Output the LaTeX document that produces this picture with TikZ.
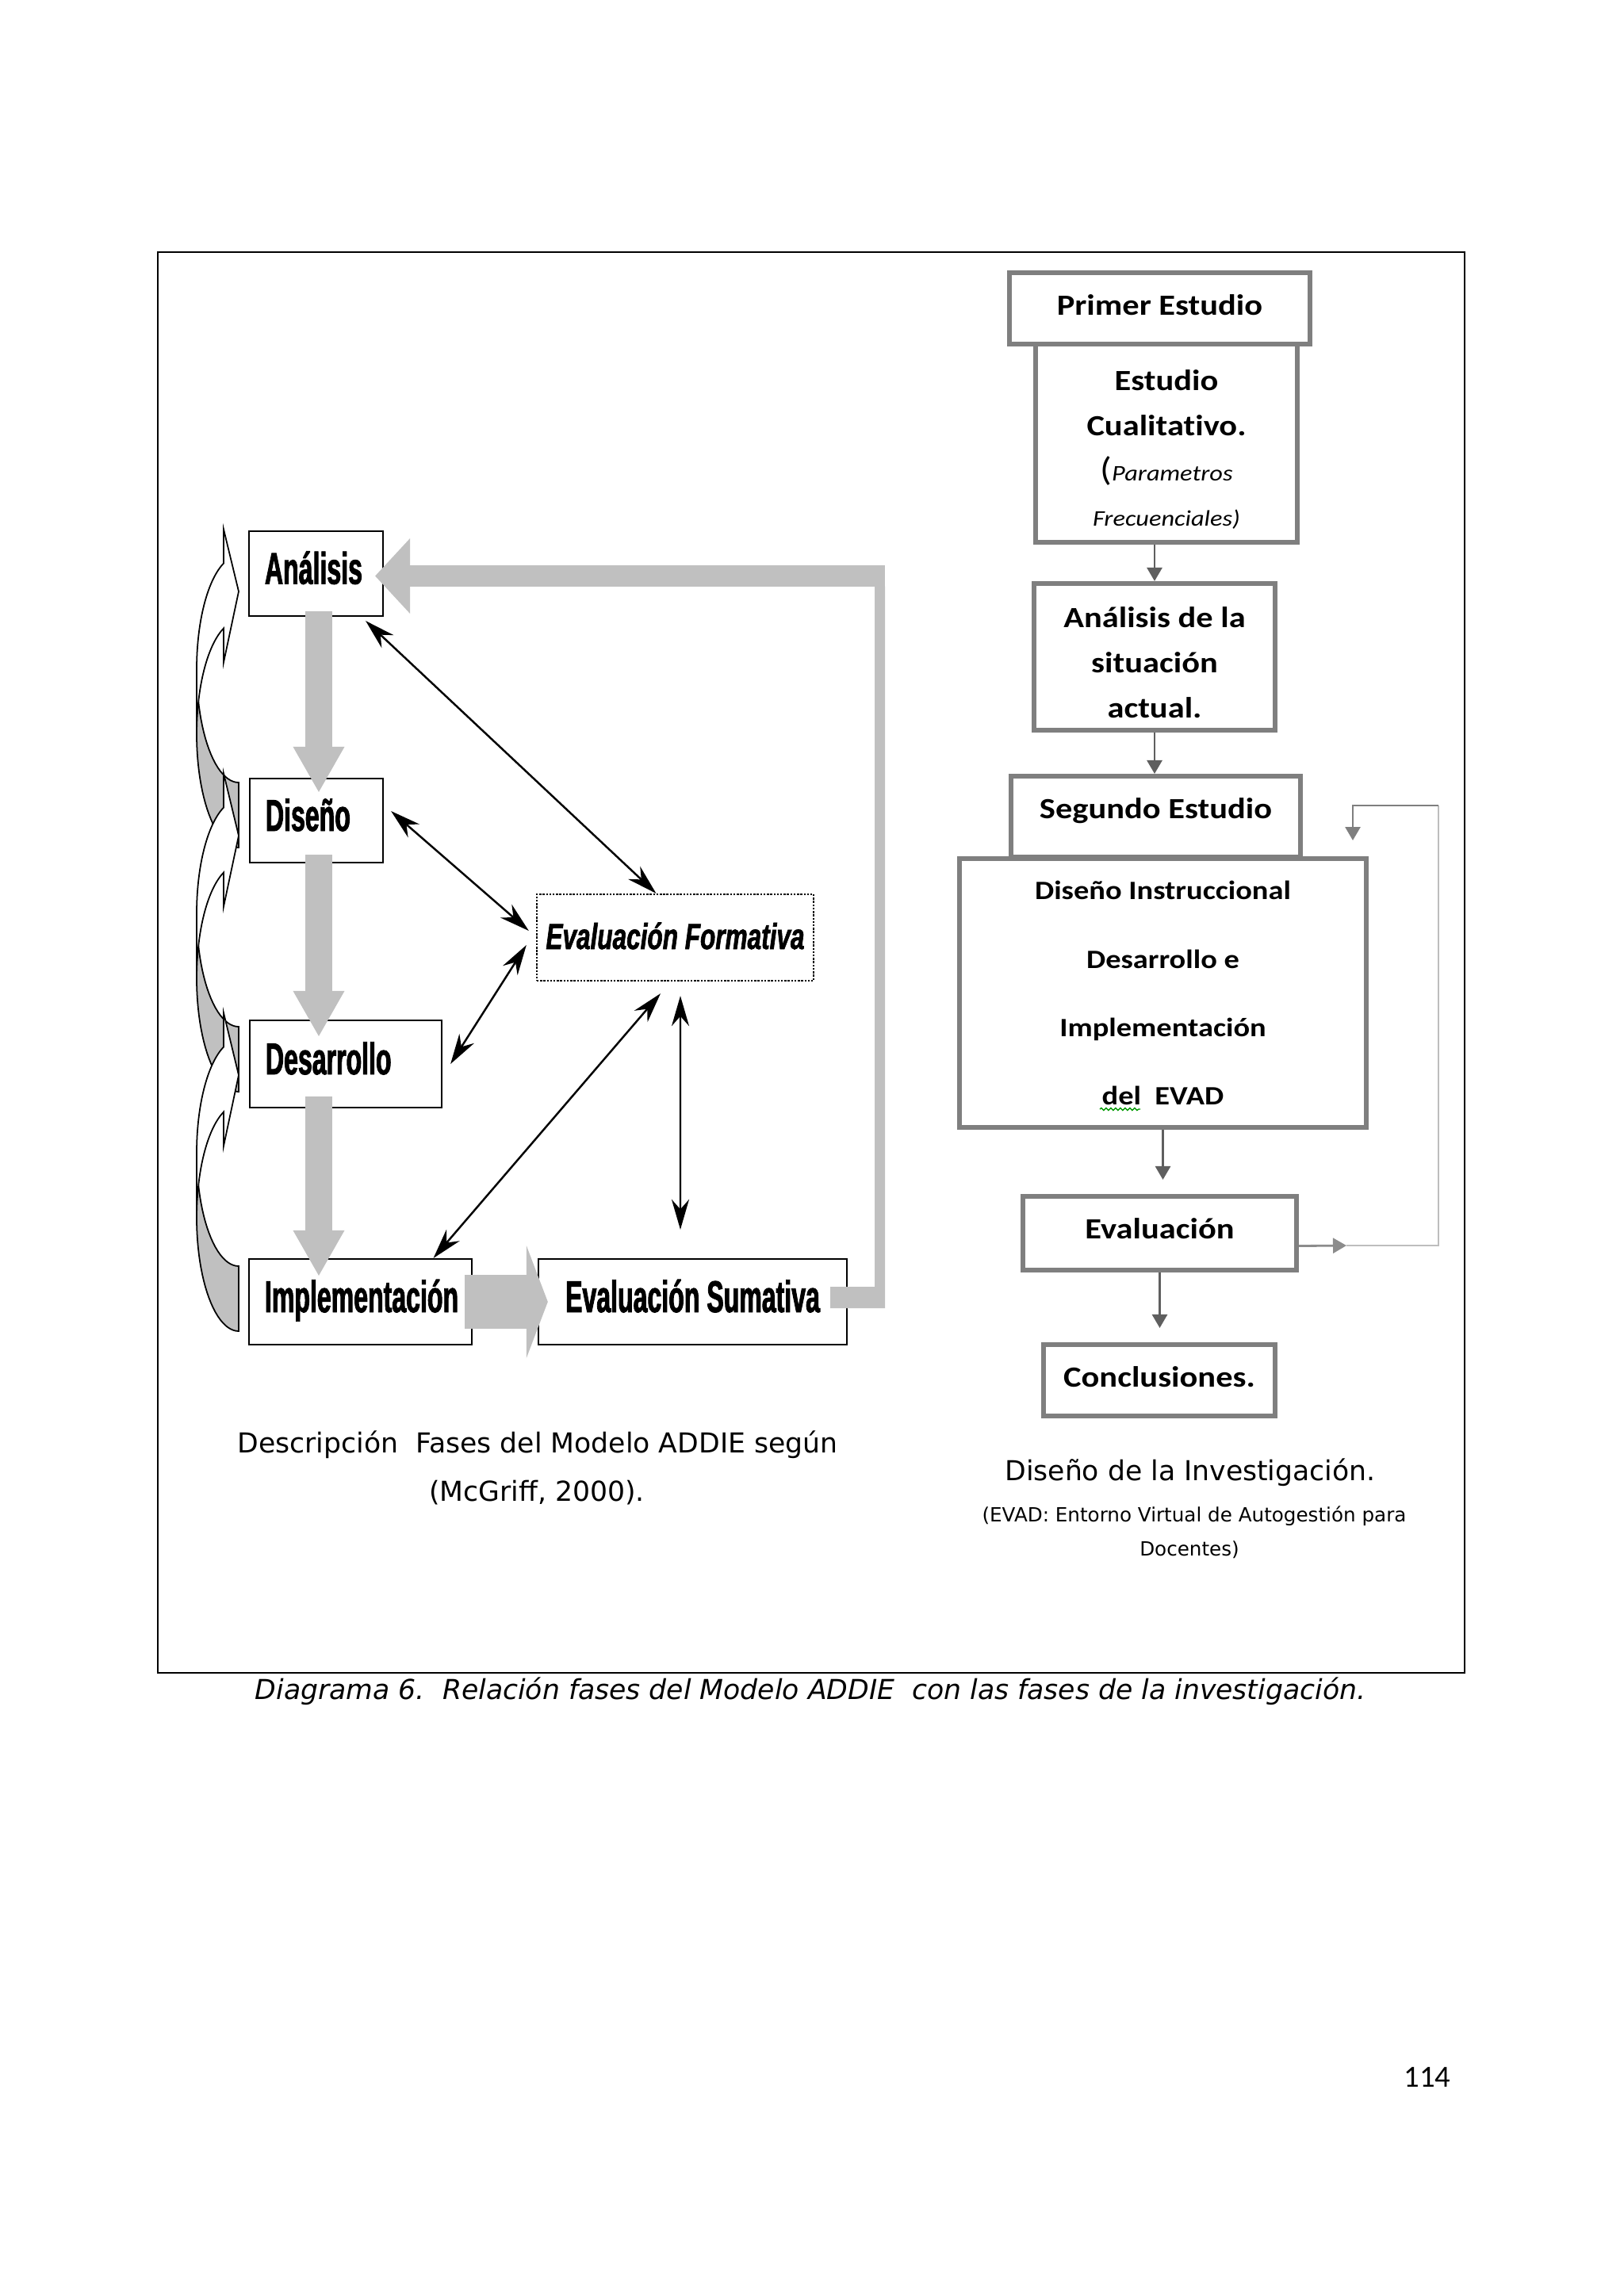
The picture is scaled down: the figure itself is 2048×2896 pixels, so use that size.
\documentclass[tikz,border=0pt]{standalone}
\usepackage{fontspec}
\setmainfont{DejaVu Sans}
\newfontfamily\addiefont[FakeStretch=0.57,FakeBold=1.6]{Liberation Sans}
\newfontfamily\formfont[FakeStretch=0.69,FakeBold=1.4]{Liberation Sans}
\newfontfamily\calfont[FakeStretch=1.15,Ligatures=NoCommon]{Carlito}
\newfontfamily\pagefont{Carlito}
\usetikzlibrary{arrows.meta,decorations.pathmorphing}

\definecolor{blockgray}{HTML}{C0C0C0}
\definecolor{boxgray}{HTML}{7F7F7F}
\definecolor{flowgray}{HTML}{5F5F5F}
\definecolor{loopgray}{HTML}{8C8C8C}
\definecolor{looplight}{HTML}{BDBDBD}

\begin{document}
\begin{tikzpicture}[x=0.01cm,y=-0.01cm,
    addiebox/.style={draw,line width=0.6pt,inner xsep=0.2cm,inner ysep=0pt,
      text height=0.26cm,text depth=0pt,
      font=\addiefont\bfseries\fontsize{16}{19}\selectfont},
    formbox/.style={draw,line width=0.6pt,dash pattern=on 0.7pt off 0.5pt,inner sep=0pt,
      text height=0.29cm,text depth=0pt,
      font=\formfont\bfseries\itshape\fontsize{13}{16}\selectfont},
    downblock/.style={draw=blockgray,line width=0.33cm,
      -{Triangle[length=0.57cm,width=0.65cm,line width=0pt]}},
    sideblock/.style={draw=blockgray,line width=0.68cm,
      -{Triangle[length=0.27cm,width=1.42cm,line width=0pt]}},
    returnblock/.style={draw=blockgray,line width=0.27cm,
      -{Triangle[length=0.44cm,width=0.95cm,line width=0pt]}},
    dblarrow/.style={line width=0.7pt,
      {Stealth[length=0.38cm,width=0.22cm]}-{Stealth[length=0.38cm,width=0.22cm]}},
    curvefront/.style={draw,line width=0.5pt,fill=white},
    curveback/.style={draw,line width=0.5pt,fill=blockgray},
    flowbox/.style={draw=boxgray,line width=1.7pt,inner sep=0pt,align=center,
      font=\calfont\bfseries\fontsize{10.5}{16.2}\selectfont},
    flowarrow/.style={draw=flowgray,line width=0.8pt,
      -{Triangle[length=0.17cm,width=0.19cm]}},
    captext/.style={anchor=base,font=\fontsize{9.85}{12}\selectfont}]

  \useasboundingbox (0,0) rectangle (2048,2896);

  % Frame
  \draw[line width=0.6pt] (199,318) rectangle (1847,2110);

  % Curved arrow Diseño > Análisis
  \draw[curveback] plot[domain=0:90] ({301-53*cos(\x)},{844+143*sin(\x)})
    -- plot[domain=90:0] ({301-53*cos(\x)},{926+143*sin(\x)}) -- cycle;
  \draw[curvefront] plot[domain=0:69] ({301-53*cos(\x)},{844-143*sin(\x)})
    -- (282,667.5) -- (301,746) -- (282,835.5)
    -- plot[domain=69:0] ({301-53*cos(\x)},{926-143*sin(\x)}) -- cycle;

  % Curved arrow Desarrollo > Diseño
  \draw[curveback] plot[domain=0:90] ({301-53*cos(\x)},{1152+143*sin(\x)})
    -- plot[domain=90:0] ({301-53*cos(\x)},{1234+143*sin(\x)}) -- cycle;
  \draw[curvefront] plot[domain=0:69] ({301-53*cos(\x)},{1152-143*sin(\x)})
    -- (282,975.5) -- (301,1054) -- (282,1143.5)
    -- plot[domain=69:0] ({301-53*cos(\x)},{1234-143*sin(\x)}) -- cycle;

  % Curved arrow Implementación > Desarrollo
  \draw[curveback] plot[domain=0:90] ({301-53*cos(\x)},{1454+143*sin(\x)})
    -- plot[domain=90:0] ({301-53*cos(\x)},{1536+143*sin(\x)}) -- cycle;
  \draw[curvefront] plot[domain=0:69] ({301-53*cos(\x)},{1454-143*sin(\x)})
    -- (282,1277.5) -- (301,1356) -- (282,1445.5)
    -- plot[domain=69:0] ({301-53*cos(\x)},{1536-143*sin(\x)}) -- cycle;

  % ADDIE phases
  \node[addiebox,minimum width=1.69cm,minimum height=1.07cm,text width=1.29cm,align=left]
    (analisis) at (398.5,723.5) {\mbox{Análisis}};
  \node[addiebox,minimum width=1.68cm,minimum height=1.06cm,text width=1.28cm,align=left]
    (diseno) at (399,1035) {\mbox{Diseño}};
  \node[addiebox,minimum width=2.42cm,minimum height=1.10cm,text width=2.02cm,align=left]
    (desarrollo) at (436,1342) {\mbox{Desarrollo}};
  \node[addiebox,minimum width=2.81cm,minimum height=1.08cm,text width=2.41cm,align=left]
    (implementacion) at (454.5,1642) {\mbox{Implementación}};
  \node[addiebox,minimum width=3.89cm,minimum height=1.08cm]
    (sumativa) at (873.5,1642) {Evaluación Sumativa};
  \node[formbox,minimum width=3.49cm,minimum height=1.09cm]
    (formativa) at (851.5,1182.5) {Evaluación Formativa};

  % Grey block arrows
  \draw[downblock] ([shift={(0.035cm,0.07cm)}]analisis.south)
    -- ([shift={(0.035cm,-0.18cm)}]analisis.south |- diseno.north);
  \draw[downblock] ([shift={(0.035cm,0.11cm)}]analisis.south |- diseno.south)
    -- ([shift={(0.035cm,-0.21cm)}]analisis.south |- desarrollo.north);
  \draw[downblock] ([shift={(0.035cm,0.15cm)}]analisis.south |- desarrollo.south)
    -- ([shift={(0.035cm,-0.22cm)}]analisis.south |- implementacion.north);
  \draw[sideblock] ([xshift=-0.1cm]implementacion.east) -- ([xshift=0.13cm]sumativa.west);

  % Return arrow Evaluación Sumativa > Análisis
  \coordinate (retcorner) at (1116,726.5);
  \fill[blockgray] (1047,1623) -- (1103,1623) -- (1103,740) -- (1116,740)
    -- (1116,1650) -- (1047,1650) -- cycle;
  \draw[returnblock] (retcorner) -- ([xshift=-0.11cm]analisis.east |- retcorner);

  % Evaluación Formativa links
  \draw[dblarrow] ([shift={(-0.23cm,-0.05cm)}]analisis.south east)
    -- ([xshift=-0.24cm]formativa.north);
  \draw[dblarrow] ([shift={(0.09cm,0.12cm)}]diseno.east)
    -- ([shift={(-0.09cm,0.085cm)}]formativa.west);
  \draw[dblarrow] ([xshift=0.1cm]desarrollo.east)
    -- ([shift={(-0.12cm,-0.095cm)}]formativa.west);
  \draw[dblarrow] ([xshift=0.92cm]implementacion.north)
    -- ([shift={(-0.185cm,-0.15cm)}]formativa.south);
  \draw[dblarrow] ([shift={(0.065cm,-0.18cm)}]formativa.south)
    -- ([shift={(-0.155cm,0.36cm)}]sumativa.north);

  % Research design
  \node[flowbox,minimum width=3.30cm,minimum height=2.50cm,text height=2.12cm] (cualitativo) at (1471,559)
    {Estudio\\Cualitativo.\\{\mdseries{\fontsize{12}{16.2}\selectfont(}\itshape\fontsize{8}{16.2}\selectfont Parametros}\\{\mdseries\itshape\fontsize{8}{16.2}\selectfont Frecuenciales)}};
  \node[flowbox,minimum width=3.79cm,minimum height=0.90cm,text height=0.16cm,text depth=0pt]
    (primer) at (1462.5,389) {Primer Estudio};
  \node[flowbox,minimum width=3.04cm,minimum height=1.85cm,text height=1.55cm] (situacion) at (1456,828.5)
    {Análisis de la\\situación\\actual.};
  \node[flowbox,minimum width=5.13cm,minimum height=3.39cm,
    font=\calfont\bfseries\fontsize{9.5}{24.5}\selectfont] (grande) at (1466.5,1252.5)
    {Diseño Instruccional\\Desarrollo e\\Implementación\\del\ \ EVAD};
  \node[flowbox,minimum width=3.65cm,minimum height=1.02cm,text height=0.04cm,text depth=0pt]
    (segundo) at (1457.5,1030) {Segundo Estudio};
  \node[flowbox,minimum width=3.45cm,minimum height=0.93cm,text height=0.13cm,text depth=0pt]
    (evaluacion) at (1462.5,1555.5) {Evaluación};
  \node[flowbox,minimum width=2.92cm,minimum height=0.90cm,text height=0.16cm,text depth=0pt]
    (conclusiones) at (1462,1741) {Conclusiones.};

  % spell check mark under "del"
  \draw[green!60!black,line width=0.4pt,decorate,
    decoration={snake,amplitude=0.015cm,segment length=0.06cm}] (1387,1399) -- (1438,1399);

  \draw[flowarrow] (situacion.north |- cualitativo.south) -- (situacion.north);
  \draw[flowarrow] (situacion.south) -- (situacion.south |- segundo.north);
  \draw[flowarrow,shorten >=0.18cm] (grande.south) -- (grande.south |- evaluacion.north);
  \draw[flowarrow,shorten >=0.18cm] (evaluacion.south) -- (evaluacion.south |- conclusiones.north);

  % Loop back from Evaluación
  \coordinate (loopmid) at (1698,1571);
  \coordinate (loopright) at (1814,1571);
  \coordinate (looptop) at (1814,1016);
  \coordinate (loopleft) at (1706,1016);
  \coordinate (loopend) at (1706,1060);
  \draw[flowarrow,draw=loopgray] ([yshift=-0.16cm]evaluacion.east) -- (loopmid);
  \draw[line width=0.8pt,draw=looplight] (loopmid) -- (loopright) -- (looptop);
  \draw[flowarrow,draw=flowgray!80] (looptop) -- (loopleft) -- (loopend);

  % Captions
  \node[captext] (descripcion) at (678,1832) {Descripción\ \ Fases del Modelo ADDIE según};
  \node[captext] (mcgriff) at (677,1893) {(McGriff, 2000).};
  \node[captext] (investigacion) at (1501,1867) {Diseño de la Investigación.};
  \node[captext,font=\fontsize{7}{8}\selectfont] (evad) at (1506,1919)
    {(EVAD: Entorno Virtual de Autogestión para};
  \node[captext,font=\fontsize{7}{8}\selectfont] (docentes) at (1500,1962) {Docentes)};
  \node[captext,font=\itshape\fontsize{9.85}{12}\selectfont] (pie) at (1022,2143)
    {Diagrama 6.\ \ Relación fases del Modelo ADDIE\ \ con las fases de la investigación.};
  \node[anchor=base east,inner sep=0pt,font=\pagefont\fontsize{11}{14}\selectfont]
    (pagina) at (1830,2632) {114};
\end{tikzpicture}
\end{document}
